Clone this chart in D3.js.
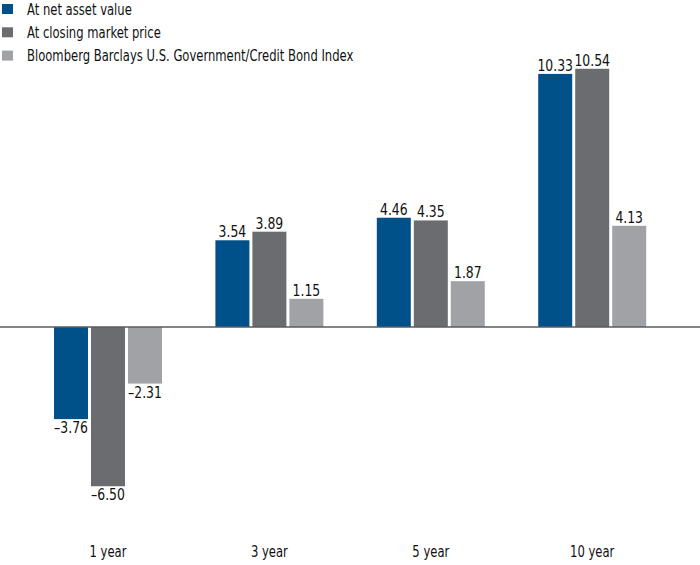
<!DOCTYPE html>
<html>
<head>
<meta charset="utf-8">
<script src="https://cdn.jsdelivr.net/npm/d3@7"></script>
<style>
  html, body { margin: 0; padding: 0; background: #fff; }
  svg { display: block; }
  text { font-family: "DejaVu Sans Condensed", "DejaVu Sans", sans-serif; fill: #111; }
</style>
</head>
<body>
<svg id="chart" width="700" height="565"></svg>
<script>
const categories = ["1 year", "3 year", "5 year", "10 year"];
const seriesNames = ["At net asset value", "At closing market price", "Bloomberg Barclays U.S. Government/Credit Bond Index"];
const navValues = [-3.76, 3.54, 4.46, 10.33];
const marketValues = [-6.50, 3.89, 4.35, 10.54];
const indexValues = [-2.31, 1.15, 1.87, 4.13];
const seriesColors = ["#00508a", "#6b6c70", "#a1a2a6"];

const seriesValues = [navValues, marketValues, indexValues];
const data = categories.map((c, i) => ({
  category: c,
  values: seriesNames.map((s, j) => ({ series: s, value: seriesValues[j][i], color: seriesColors[j] }))
}));

const svg = d3.select("#chart");

const x0 = d3.scaleBand().domain(categories).range([54, 646.2]).paddingInner(0.331).paddingOuter(0);
const x1 = d3.scaleBand().domain(seriesNames).range([0, x0.bandwidth()]).paddingInner(0.081).paddingOuter(0);
const y = d3.scaleLinear().domain([0, 10]).range([327, 82]);

const fmt = v => (v < 0 ? "\u2013" : "") + Math.abs(v).toFixed(2);

const groups = svg.selectAll("g.grp").data(data).join("g")
  .attr("class", "grp")
  .attr("transform", d => `translate(${x0(d.category)},0)`);

groups.selectAll("rect").data(d => d.values).join("rect")
  .attr("x", d => x1(d.series))
  .attr("width", x1.bandwidth())
  .attr("y", d => Math.min(y(d.value), y(0)))
  .attr("height", d => Math.abs(y(d.value) - y(0)))
  .attr("fill", d => d.color);

groups.selectAll("g.val").data(d => d.values).join("g")
  .attr("class", "val")
  .attr("transform", d => `translate(${x1(d.series) + x1.bandwidth() / 2},${d.value >= 0 ? y(d.value) - 3 : y(d.value) + 14}) scale(0.92,1)`)
  .append("text")
  .attr("text-anchor", "middle")
  .attr("font-size", "15px")
  .text(d => fmt(d.value));

// zero axis line
svg.append("line")
  .attr("x1", 0).attr("x2", 700)
  .attr("y1", y(0)).attr("y2", y(0))
  .attr("stroke", "#5a5b5e").attr("stroke-width", 1.5);

// category labels
svg.selectAll("g.cat").data(categories).join("g")
  .attr("class", "cat")
  .attr("transform", d => `translate(${x0(d) + x0.bandwidth() / 2},557) scale(0.86,1)`)
  .append("text")
  .attr("text-anchor", "middle")
  .attr("font-size", "15px")
  .text(d => d);

// legend
const legend = svg.selectAll("g.leg").data(seriesNames).join("g")
  .attr("class", "leg")
  .attr("transform", (d, i) => `translate(2,${4 + i * 23.3})`);
legend.append("rect").attr("width", 11).attr("height", 10).attr("fill", (d, i) => seriesColors[i]);
legend.append("g").attr("transform", "translate(25,10.5) scale(0.86,1)")
  .append("text").attr("font-size", "15px").text(d => d);
</script>
</body>
</html>
